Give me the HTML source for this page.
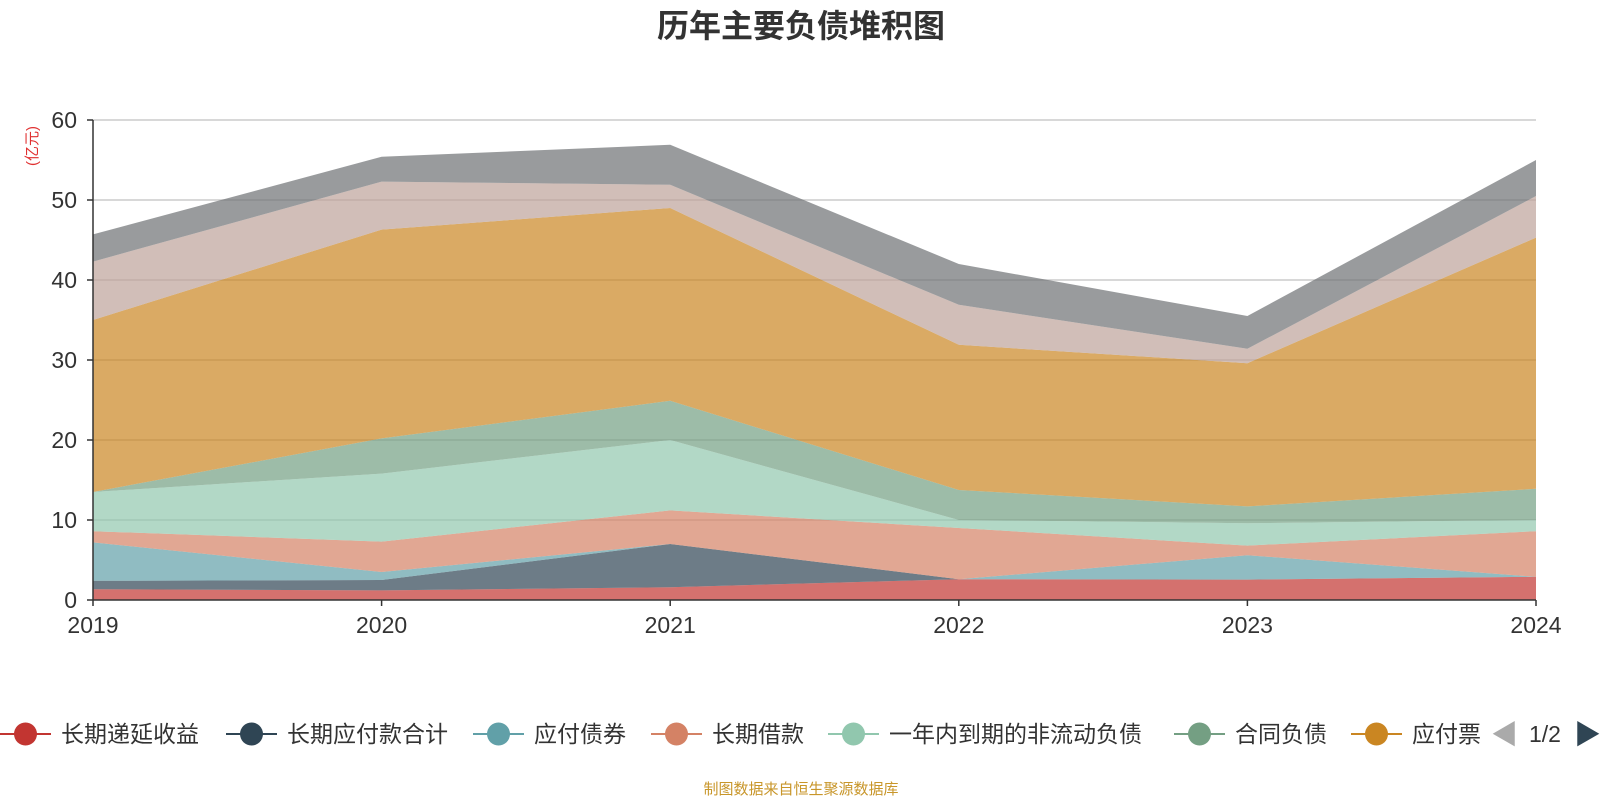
<!DOCTYPE html>
<html><head><meta charset="utf-8">
<style>
html,body{margin:0;padding:0;background:#fff;width:1600px;height:800px;overflow:hidden;font-family:"Liberation Sans","Noto Sans CJK SC",sans-serif;}
svg text{font-family:"Liberation Sans","Noto Sans CJK SC",sans-serif;}
</style></head>
<body>
<svg id="chart" width="1600" height="800" xmlns="http://www.w3.org/2000/svg">
<text x="801" y="37" text-anchor="middle" font-size="32" font-weight="bold" fill="#333">历年主要负债堆积图</text>
<text transform="translate(37,146) rotate(-90)" text-anchor="middle" font-size="15" fill="#e03030">(亿元)</text>
<g id="grid"></g>
<g id="areas"></g>
<g id="axes"></g>
<g id="legend"></g>
<text x="1491" y="744" font-size="27" fill="#aaa">◀</text>
<text x="1545" y="742" text-anchor="middle" font-size="23" fill="#333">1/2</text>
<text x="1574" y="744" font-size="27" fill="#2f4554">▶</text>
<text x="801" y="794" text-anchor="middle" font-size="15" fill="#c8962a">制图数据来自恒生聚源数据库</text>
</svg>
<script>
const years = ['2019','2020','2021','2022','2023','2024'];
const seriesNames = ['长期递延收益','长期应付款合计','应付债券','长期借款','一年内到期的非流动负债','合同负债','应付票据及应付账款','其他应付款','租赁负债'];
const s0 = [1.35,1.2,1.6,2.6,2.55,2.9];
const s1 = [1.05,1.3,5.4,0,0,0];
const s2 = [4.8,1.0,0,0,3.05,0];
const s3 = [1.4,3.8,4.2,6.4,1.2,5.7];
const s4 = [4.9,8.5,8.8,1.0,2.8,1.4];
const s5 = [0,4.4,4.9,3.75,2.1,3.9];
const s6 = [21.5,26.1,24.1,18.15,17.9,31.4];
const s7 = [7.3,6.0,2.9,5.0,1.8,5.2];
const s8 = [3.4,3.1,5.0,5.1,4.1,4.5];
const yTicks = [0,10,20,30,40,50,60];
const colors = ['#c23531','#2f4554','#61a0a8','#d48265','#91c7ae','#749f83','#ca8622','#bda29a','#6e7074'];
const series = [s0,s1,s2,s3,s4,s5,s6,s7,s8];
const NS='http://www.w3.org/2000/svg';
const X0=93,X1=1536,Y0=600,Y1=120,YMAX=60;
const xs=i=>X0+(X1-X0)*i/(years.length-1);
const ys=v=>Y0-(Y0-Y1)*v/YMAX;
function mk(tag,attrs,parent){const e=document.createElementNS(NS,tag);for(const k in attrs)e.setAttribute(k,attrs[k]);parent.appendChild(e);return e;}
const grid=document.getElementById('grid'),areas=document.getElementById('areas'),axes=document.getElementById('axes'),legend=document.getElementById('legend');
yTicks.forEach(t=>{
  if(t>0){const l=mk('line',{x1:X0,x2:X1,y1:ys(t),y2:ys(t),stroke:'#ccc','stroke-width':1.5},grid);
  
  }
  const tk=mk('line',{x1:X0-6,x2:X0,y1:ys(t),y2:ys(t),stroke:'#333','stroke-width':1.5},axes);
  
  
  const tx=mk('text',{x:X0-16,y:ys(t)+8,'text-anchor':'end','font-size':23,fill:'#333'},axes);
  tx.textContent=t;
  
  
});
let base=years.map(()=>0);
series.forEach((s,k)=>{
  const top=base.map((b,i)=>b+s[i]);
  let d='M'+years.map((y,i)=>xs(i)+','+ys(top[i])).join(' L');
  for(let i=years.length-1;i>=0;i--)d+=' L'+xs(i)+','+ys(base[i]);
  const p=mk('path',{d:d+'Z',fill:colors[k],'fill-opacity':0.7,stroke:'none'},areas);
  
  
  base=top;
});
mk('line',{x1:X0,x2:X0,y1:Y1,y2:Y0,stroke:'#333','stroke-width':1.5},axes);
mk('line',{x1:X0,x2:X1,y1:Y0,y2:Y0,stroke:'#333','stroke-width':1.5},axes);
years.forEach((y,i)=>{
  const tk=mk('line',{x1:xs(i),x2:xs(i),y1:Y0,y2:Y0+6,stroke:'#333','stroke-width':1.5},axes);
  
  
  const t=mk('text',{x:xs(i),y:Y0+33,'text-anchor':'middle','font-size':23,fill:'#333'},axes);
  t.textContent=y;
  
  
});
const legX=[0,226,473,651,828,1174,1351];
const legLabels=['长期递延收益','长期应付款合计','应付债券','长期借款','一年内到期的非流动负债','合同负债','应付票'];
legLabels.forEach((n,k)=>{
  const g=mk('g',{},legend);
  
  
  const x=legX[k];
  mk('line',{x1:x,x2:x+51,y1:734,y2:734,stroke:colors[k],'stroke-width':2},g);
  mk('circle',{cx:x+25.5,cy:734,r:11.5,fill:colors[k]},g);
  const t=mk('text',{x:x+61,y:742,'font-size':23,fill:'#333'},g);
  t.textContent=n;
});
</script>
</body></html>
